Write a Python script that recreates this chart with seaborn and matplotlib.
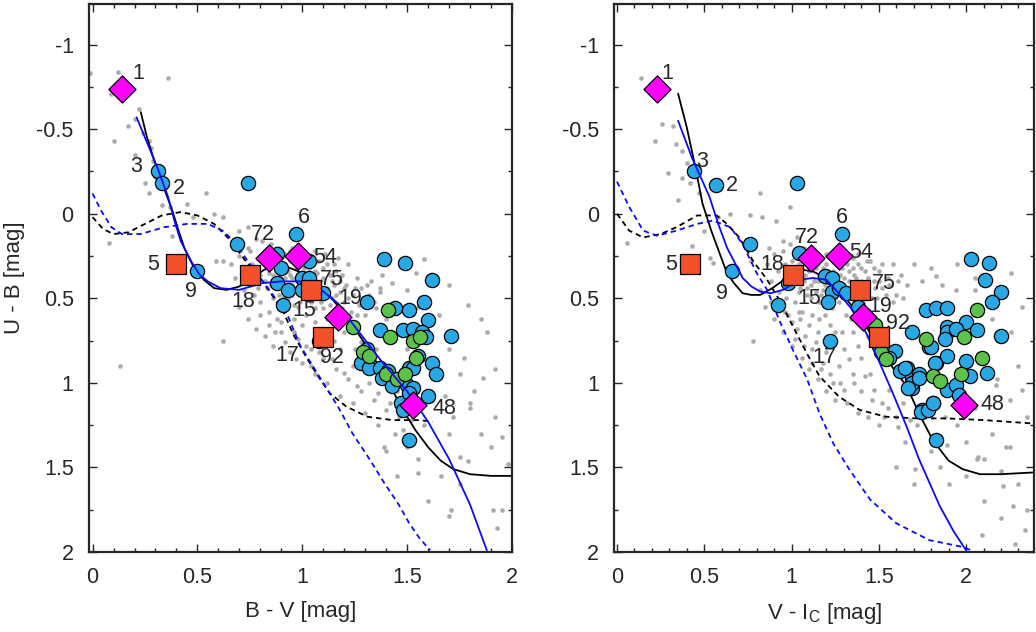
import numpy as np
import pandas as pd
import seaborn as sns
import matplotlib.pyplot as plt
from matplotlib.ticker import MultipleLocator, FuncFormatter

sns.set_style("ticks")
plt.rcParams['font.family'] = ['Liberation Sans', 'DejaVu Sans']
plt.rcParams['axes.unicode_minus'] = False

# ---------------- left panel: U-B vs B-V ----------------
bv_grey = [
    (-0.01, -0.83), (0.09, -0.71), (0.17, -0.71), (0.36, -0.80), (0.20, -0.56), (0.17, -0.52), (0.10, -0.43),
    (0.27, -0.43), (0.28, -0.39), (0.20, -0.35), (0.29, -0.31), (0.30, -0.22), (0.27, -0.12), (0.25, -0.18),
    (0.33, -0.05), (0.37, -0.04), (0.45, -0.06), (0.54, -0.12), (0.38, 0.13), (0.08, 0.17), (0.48, 0.02),
    (0.58, 0.00), (0.62, 0.02), (0.59, 0.28), (0.62, 0.28), (0.70, 0.10), (0.74, 0.08), (0.74, 0.20),
    (0.81, 0.16), (0.13, 0.90), (0.12, -0.84), (0.22, -0.62), (0.24, -0.48), (0.62, 0.75),
    (0.66, 0.30), (0.68, 0.38), (0.70, 0.25), (0.72, 0.33), (0.72, 0.45), (0.75, 0.22), (0.76, 0.30),
    (0.77, 0.48), (0.78, 0.15), (0.79, 0.27), (0.80, 0.36), (0.80, 0.52), (0.82, 0.22), (0.83, 0.30),
    (0.83, 0.44), (0.84, 0.58), (0.85, 0.18), (0.86, 0.36), (0.86, 0.50), (0.87, 0.26), (0.88, 0.44),
    (0.88, 0.62), (0.89, 0.20), (0.90, 0.30), (0.90, 0.38), (0.91, 0.50), (0.92, 0.24), (0.92, 0.57),
    (0.93, 0.34), (0.93, 0.43), (0.94, 0.28), (0.95, 0.20), (0.95, 0.38), (0.95, 0.48), (0.96, 0.62),
    (0.97, 0.32), (0.97, 0.44), (0.98, 0.27), (0.98, 0.55), (0.99, 0.38), (1.00, 0.22), (1.00, 0.48),
    (1.01, 0.32), (1.01, 0.42), (1.02, 0.60), (1.03, 0.26), (1.03, 0.36), (1.04, 0.52), (1.05, 0.30),
    (1.05, 0.42), (1.06, 0.22), (1.06, 0.64), (1.07, 0.35), (1.08, 0.28), (1.08, 0.48), (1.09, 0.40),
    (1.10, 0.56), (1.10, 0.32), (1.11, 0.24), (1.12, 0.44), (1.12, 0.62), (1.13, 0.36), (1.14, 0.50),
    (1.15, 0.30), (1.15, 0.42), (1.16, 0.58), (1.17, 0.26), (1.18, 0.46), (1.19, 0.36), (1.20, 0.52),
    (1.21, 0.42), (1.22, 0.30), (1.23, 0.58), (1.24, 0.48), (1.26, 0.38), (1.27, 0.54), (1.28, 0.44),
    (1.30, 0.60), (1.32, 0.48), (1.33, 0.40), (1.35, 0.56), (1.37, 0.46), (1.38, 0.36), (1.40, 0.62),
    (0.76, 0.40), (0.78, 0.34), (0.79, 0.44), (0.81, 0.28), (0.82, 0.40), (0.84, 0.25), (0.84, 0.35),
    (0.85, 0.42), (0.87, 0.32), (0.87, 0.40), (0.88, 0.28), (0.89, 0.35), (0.89, 0.48), (0.90, 0.25),
    (0.91, 0.42), (0.92, 0.30), (0.92, 0.38), (0.93, 0.50), (0.94, 0.36), (0.94, 0.22), (0.95, 0.42),
    (0.96, 0.30), (0.96, 0.54), (0.97, 0.38), (0.98, 0.46), (0.99, 0.30), (0.99, 0.52), (1.00, 0.36),
    (1.01, 0.26), (1.02, 0.44), (1.02, 0.50), (1.03, 0.32), (1.04, 0.40), (1.05, 0.48), (1.06, 0.34),
    (1.06, 0.56), (1.07, 0.28), (1.08, 0.42), (1.09, 0.52), (1.10, 0.38), (1.11, 0.46), (1.12, 0.30),
    (1.13, 0.54), (1.14, 0.40), (1.16, 0.34), (1.16, 0.48), (1.18, 0.40), (1.19, 0.56), (1.20, 0.44),
    (1.22, 0.50), (1.25, 0.44), (1.26, 0.60), (1.29, 0.50), (1.31, 0.42), (1.34, 0.52),
    (0.70, 0.55), (0.74, 0.62), (0.78, 0.68), (0.82, 0.72), (0.86, 0.78), (0.90, 0.70), (0.94, 0.82),
    (0.98, 0.74), (1.00, 0.88), (1.04, 0.80), (1.06, 0.95), (1.10, 0.86), (1.12, 1.00), (1.16, 0.92),
    (1.18, 1.08), (1.22, 0.98), (1.24, 1.12), (1.28, 1.05), (1.30, 1.18), (1.34, 1.10), (1.36, 1.25),
    (1.40, 1.16), (1.44, 1.30), (1.46, 1.20),
    (0.80, 0.60), (0.84, 0.66), (0.87, 0.70), (0.90, 0.64), (0.92, 0.76), (0.96, 0.70), (0.97, 0.86),
    (1.00, 0.66), (1.02, 0.78), (1.04, 0.90), (1.07, 0.70), (1.08, 0.82), (1.12, 0.72), (1.14, 0.86),
    (1.16, 0.66), (1.18, 0.80), (1.20, 0.94), (1.24, 0.90), (1.26, 1.02), (1.28, 0.76), (1.32, 1.00),
    (1.36, 1.06), (1.38, 0.88), (1.42, 1.12), (1.48, 1.28), (1.52, 1.22),
    (1.50, 0.45), (1.55, 0.55), (1.65, 0.60), (1.70, 0.80), (1.75, 0.95), (1.80, 1.15), (1.85, 1.30),
    (1.82, 1.05), (1.92, 1.20), (1.95, 1.32), (1.95, 1.75), (1.70, 1.30), (1.66, 1.55), (1.60, 1.70),
    (1.75, 1.60), (1.55, 1.45), (1.45, 1.55), (1.40, 1.40), (1.58, 1.25), (1.50, 1.38), (1.62, 1.10),
    (1.68, 1.08), (1.72, 1.20), (1.98, 1.48), (1.92, 0.92), (1.88, 0.70), (1.70, 0.42), (1.50, 0.80),
    (1.47, 0.95), (1.45, 1.05), (1.38, 0.95), (1.35, 0.80), (1.30, 0.90), (1.25, 0.80), (1.20, 0.70),
    (1.15, 0.75), (1.79, 0.54), (1.85, 0.62), (1.77, 0.85), (1.86, 0.97), (1.80, 1.12), (1.90, 1.38),
    (1.75, 1.44), (1.79, 1.46), (1.55, 1.53), (1.71, 1.75), (1.91, 1.75), (1.93, 1.86), (1.70, 1.79),
    (1.39, 1.38), (1.58, 0.27), (1.54, 0.35), (1.43, 0.41), (1.37, 0.44),
]
bv_blue = [
    (0.31, -0.25), (0.33, -0.18), (0.74, -0.18), (0.69, 0.18), (0.50, 0.34), (0.97, 0.12), (0.88, 0.24),
    (0.90, 0.32), (0.88, 0.41), (0.93, 0.45), (0.91, 0.54), (1.00, 0.38), (1.03, 0.38), (1.00, 0.45),
    (1.03, 0.28), (1.10, 0.47), (1.08, 0.75), (1.39, 0.27), (1.49, 0.29), (1.62, 0.39), (1.31, 0.52),
    (1.44, 0.56), (1.51, 0.57), (1.58, 0.52), (1.60, 0.63), (1.71, 0.72), (1.37, 0.69), (1.48, 0.69),
    (1.53, 0.68), (1.57, 0.70), (1.59, 0.73), (1.31, 0.80), (1.28, 0.88), (1.32, 0.91), (1.37, 0.91),
    (1.41, 0.93), (1.38, 0.97), (1.50, 1.01), (1.53, 1.03), (1.51, 0.91), (1.55, 0.84), (1.62, 0.88),
    (1.64, 0.95), (1.60, 1.08), (1.47, 1.12), (1.48, 1.16), (1.51, 1.34), (1.43, 1.02), (1.51, 1.06),
    (1.53, 0.91),
]
bv_green = [
    (1.41, 0.57), (1.24, 0.67), (1.42, 0.73), (1.53, 0.75), (1.56, 0.73), (1.29, 0.82), (1.32, 0.84),
    (1.40, 0.95), (1.45, 0.98), (1.49, 0.95), (1.54, 0.85),
]
bv_square = [(0.40, 0.30), (0.75, 0.36), (1.04, 0.45), (1.10, 0.73)]
bv_diamond = [(0.14, -0.74), (0.84, 0.26), (0.98, 0.25), (1.17, 0.61), (1.53, 1.13)]
bv_labels = [
    ('1', 0.22, -0.83), ('3', 0.21, -0.28), ('2', 0.41, -0.15), ('9', 0.47, 0.46), ('5', 0.29, 0.30),
    ('72', 0.81, 0.12), ('6', 1.01, 0.02), ('54', 1.11, 0.26), ('18', 0.72, 0.52), ('75', 1.14, 0.39),
    ('15', 1.01, 0.57), ('19', 1.23, 0.50), ('17', 0.93, 0.84), ('92', 1.14, 0.85), ('48', 1.68, 1.15),
]
bv_black = [
    (0.23, -0.60), (0.26, -0.45), (0.29, -0.33), (0.32, -0.22), (0.35, -0.12), (0.38, -0.02), (0.41, 0.10),
    (0.44, 0.21), (0.48, 0.31), (0.53, 0.39), (0.58, 0.44), (0.64, 0.45), (0.70, 0.43), (0.76, 0.38),
    (0.82, 0.33), (0.88, 0.31), (0.94, 0.32), (1.00, 0.35), (1.06, 0.40), (1.12, 0.47), (1.18, 0.56),
    (1.24, 0.66), (1.30, 0.77), (1.36, 0.89), (1.42, 1.02), (1.48, 1.16), (1.54, 1.28), (1.60, 1.38),
    (1.66, 1.46), (1.72, 1.51), (1.80, 1.54), (1.90, 1.55), (2.00, 1.55),
]
bv_bluefit = [
    (0.21, -0.57), (0.26, -0.42), (0.31, -0.27), (0.36, -0.10), (0.39, 0.04), (0.42, 0.16), (0.47, 0.28),
    (0.51, 0.36), (0.55, 0.40), (0.61, 0.44), (0.70, 0.45), (0.81, 0.41), (0.90, 0.40), (0.99, 0.40),
    (1.09, 0.45), (1.17, 0.53), (1.24, 0.65), (1.37, 0.86), (1.50, 1.05), (1.60, 1.23), (1.70, 1.45),
    (1.80, 1.72), (1.88, 1.99),
]
bv_black_dash = [
    (0.00, 0.02), (0.05, 0.09), (0.10, 0.12), (0.17, 0.11), (0.25, 0.06), (0.33, 0.01), (0.42, -0.01),
    (0.50, 0.01), (0.58, 0.06), (0.66, 0.16), (0.73, 0.28), (0.80, 0.38), (0.85, 0.47), (0.91, 0.58),
    (0.96, 0.72), (1.02, 0.85), (1.07, 0.95), (1.13, 1.06), (1.21, 1.14), (1.31, 1.20), (1.43, 1.22),
    (1.56, 1.22), (1.62, 1.23),
]
bv_blue_dash = [
    (0.00, -0.12), (0.04, -0.02), (0.09, 0.08), (0.14, 0.12), (0.23, 0.12), (0.34, 0.08), (0.45, 0.06),
    (0.55, 0.06), (0.62, 0.10), (0.68, 0.17), (0.74, 0.28), (0.80, 0.38), (0.86, 0.48), (0.93, 0.60),
    (0.99, 0.78), (1.09, 0.98), (1.17, 1.14), (1.24, 1.30), (1.32, 1.45), (1.39, 1.59), (1.46, 1.72),
    (1.51, 1.83), (1.56, 1.92), (1.61, 1.99),
]

# ---------------- right panel: U-B vs V-Ic ----------------
vi_grey = [
    (0.14, -0.80), (0.21, -0.74), (0.27, -0.71), (0.26, -0.53), (0.22, -0.43), (0.32, -0.52), (0.34, -0.41),
    (0.37, -0.37), (0.29, -0.24), (0.37, -0.21), (0.42, -0.18), (0.47, -0.12), (0.82, -0.12), (0.99, -0.04),
    (0.06, 0.17), (0.43, 0.19), (0.58, 0.02), (0.65, 0.00), (0.76, 0.01), (0.83, 0.02), (0.91, 0.04),
    (0.53, 0.26), (0.55, 0.29), (0.77, 0.28), (0.87, 0.20), (0.95, 0.16), (1.03, 0.14), (0.40, -0.30),
    (0.35, -0.08), (0.50, 0.10), (0.78, 0.75),
    (0.86, 0.30), (0.88, 0.40), (0.90, 0.24), (0.92, 0.34), (0.93, 0.46), (0.95, 0.22), (0.96, 0.30),
    (0.97, 0.50), (0.99, 0.18), (1.00, 0.28), (1.01, 0.36), (1.02, 0.52), (1.04, 0.30), (1.05, 0.44),
    (1.06, 0.58), (1.07, 0.20), (1.08, 0.36), (1.09, 0.48), (1.10, 0.28), (1.11, 0.42), (1.12, 0.60),
    (1.13, 0.22), (1.14, 0.32), (1.15, 0.40), (1.16, 0.52), (1.17, 0.26), (1.18, 0.45), (1.19, 0.60),
    (1.20, 0.30), (1.21, 0.40), (1.22, 0.24), (1.23, 0.56), (1.24, 0.34), (1.25, 0.42), (1.26, 0.28),
    (1.27, 0.52), (1.28, 0.36), (1.29, 0.22), (1.30, 0.46), (1.31, 0.60), (1.32, 0.30), (1.33, 0.40),
    (1.34, 0.50), (1.35, 0.26), (1.36, 0.36), (1.37, 0.44), (1.38, 0.30), (1.40, 0.40), (1.41, 0.52),
    (1.42, 0.34), (1.44, 0.46), (1.45, 0.28), (1.47, 0.40), (1.49, 0.50), (1.50, 0.34), (1.52, 0.44),
    (1.55, 0.38), (1.58, 0.30), (1.60, 0.48), (1.63, 0.36), (1.66, 0.42), (1.70, 0.30), (1.75, 0.40),
    (1.80, 0.32), (1.86, 0.42), (1.95, 0.30), (2.05, 0.38),
    (1.02, 0.40), (1.03, 0.24), (1.04, 0.46), (1.06, 0.32), (1.07, 0.40), (1.08, 0.26), (1.09, 0.44),
    (1.10, 0.34), (1.11, 0.50), (1.12, 0.26), (1.13, 0.40), (1.14, 0.46), (1.15, 0.30), (1.16, 0.36),
    (1.17, 0.48), (1.18, 0.32), (1.19, 0.42), (1.20, 0.24), (1.21, 0.34), (1.22, 0.46), (1.24, 0.28),
    (1.25, 0.50), (1.26, 0.36), (1.27, 0.24), (1.28, 0.44), (1.29, 0.32), (1.30, 0.38), (1.31, 0.28),
    (1.32, 0.50), (1.33, 0.34), (1.34, 0.44), (1.35, 0.32), (1.36, 0.52), (1.37, 0.38), (1.38, 0.24),
    (1.39, 0.46), (1.40, 0.32), (1.42, 0.42), (1.43, 0.28), (1.44, 0.38), (1.46, 0.50), (1.47, 0.32),
    (1.48, 0.44), (1.50, 0.40), (1.52, 0.30), (1.54, 0.48), (1.56, 0.42), (1.58, 0.52), (1.61, 0.40),
    (1.64, 0.50),
    (0.90, 0.62), (0.95, 0.70), (0.98, 0.60), (1.00, 0.78), (1.03, 0.68), (1.06, 0.85), (1.08, 0.72),
    (1.10, 0.92), (1.12, 0.80), (1.15, 0.98), (1.18, 0.88), (1.20, 1.05), (1.22, 0.95), (1.25, 1.10),
    (1.28, 1.00), (1.30, 0.80), (1.32, 1.12), (1.35, 0.95), (1.38, 1.18), (1.40, 1.05), (1.44, 1.20),
    (1.46, 1.10), (1.50, 1.25), (1.55, 1.15), (1.35, 0.70), (1.40, 0.85), (1.45, 0.95), (1.25, 0.70),
    (1.15, 0.70), (1.05, 0.62),
    (0.96, 0.58), (1.00, 0.64), (1.02, 0.74), (1.04, 0.58), (1.07, 0.78), (1.10, 0.66), (1.12, 0.88),
    (1.14, 0.76), (1.16, 0.62), (1.17, 0.92), (1.20, 0.82), (1.22, 0.66), (1.24, 1.00), (1.27, 0.90),
    (1.29, 0.70), (1.30, 1.04), (1.33, 0.86), (1.34, 0.62), (1.36, 1.00), (1.38, 0.78), (1.42, 0.96),
    (1.44, 0.72), (1.47, 1.04), (1.52, 1.12), (1.56, 1.04), (1.60, 1.20), (1.64, 1.12), (1.68, 1.22),
    (0.82, 0.45), (0.85, 0.55), (0.88, 0.52),
    (1.72, 1.25), (1.80, 1.40), (1.95, 1.25), (2.05, 1.15), (2.10, 1.45), (2.15, 1.30), (2.20, 1.52),
    (2.30, 1.60), (2.35, 1.75), (2.20, 1.80), (2.28, 1.95), (2.10, 1.70), (2.00, 1.55), (1.90, 1.60),
    (1.85, 1.50), (2.25, 1.10), (2.30, 0.90), (2.18, 0.98), (2.26, 0.70), (2.32, 0.55), (2.15, 0.62),
    (2.00, 1.35), (1.88, 1.20), (1.65, 1.35), (1.60, 1.50), (1.70, 1.60), (2.35, 1.20),
    (1.53, 1.20), (1.61, 1.26), (1.89, 1.37), (2.07, 1.44), (2.23, 1.38), (2.17, 1.01), (2.32, 1.04),
    (1.71, 1.51), (2.26, 0.35), (1.83, 0.37), (1.94, 0.45), (2.05, 0.45), (2.25, 1.38), (2.21, 1.61),
    (2.27, 1.73), (2.09, 1.90), (2.34, 1.87), (2.06, 1.45),
]
vi_blue = [
    (0.44, -0.25), (0.57, -0.17), (1.03, -0.18), (0.76, 0.18), (0.66, 0.34), (0.92, 0.54), (1.29, 0.12),
    (1.04, 0.23), (0.98, 0.41), (1.19, 0.37), (1.23, 0.38), (1.23, 0.46), (1.21, 0.52), (1.27, 0.44),
    (1.22, 0.75), (1.38, 0.55), (1.59, 0.81), (1.66, 0.91), (1.62, 0.93), (1.69, 0.70), (1.79, 0.79),
    (1.77, 0.57), (1.83, 0.56), (1.89, 0.56), (1.69, 0.97), (1.73, 0.95), (1.69, 1.03), (1.83, 0.88),
    (1.81, 1.12), (1.75, 1.16), (1.83, 1.34), (1.89, 0.67), (2.03, 0.27), (2.13, 0.29), (2.11, 0.39),
    (2.20, 0.46), (2.15, 0.52), (2.00, 0.64), (2.06, 0.69), (1.89, 0.70), (1.94, 0.68), (1.88, 0.74),
    (2.20, 0.72), (1.80, 0.79), (1.89, 0.84), (2.00, 0.87), (2.12, 0.94), (2.02, 0.96), (1.82, 0.88),
    (1.69, 1.00), (1.73, 0.97), (1.67, 1.03), (1.56, 0.85), (1.65, 0.91), (1.89, 1.04), (1.94, 1.01),
    (1.96, 1.07), (1.74, 1.17), (1.78, 1.16), (1.81, 1.12), (1.31, 0.47), (1.42, 0.60), (1.50, 0.78),
]
vi_green = [
    (1.48, 0.66), (1.51, 0.82), (1.54, 0.86), (1.77, 0.74), (1.81, 0.96), (1.85, 0.99), (2.06, 0.57),
    (1.99, 0.73), (2.09, 0.85), (1.97, 0.95),
]
vi_square = [(0.42, 0.30), (1.01, 0.36), (1.39, 0.45), (1.50, 0.73)]
vi_diamond = [(0.23, -0.74), (1.11, 0.26), (1.27, 0.25), (1.41, 0.61), (1.99, 1.13)]
vi_labels = [
    ('1', 0.29, -0.83), ('3', 0.49, -0.31), ('2', 0.66, -0.17), ('9', 0.60, 0.47), ('5', 0.31, 0.30),
    ('72', 1.09, 0.14), ('6', 1.29, 0.02), ('54', 1.40, 0.23), ('18', 0.89, 0.30), ('75', 1.53, 0.41),
    ('15', 1.10, 0.50), ('19', 1.51, 0.55), ('17', 1.19, 0.85), ('92', 1.61, 0.65), ('48', 2.15, 1.13),
]
vi_black = [
    (0.35, -0.71), (0.40, -0.51), (0.45, -0.27), (0.49, -0.06), (0.54, 0.10), (0.59, 0.24), (0.63, 0.35),
    (0.67, 0.41), (0.72, 0.47), (0.77, 0.48), (0.82, 0.48), (0.89, 0.44), (0.97, 0.38), (1.05, 0.33),
    (1.12, 0.34), (1.20, 0.38), (1.27, 0.45), (1.35, 0.55), (1.43, 0.67), (1.50, 0.79), (1.58, 0.91),
    (1.66, 1.02), (1.73, 1.18), (1.81, 1.34), (1.90, 1.46), (1.98, 1.51), (2.08, 1.54), (2.20, 1.54),
    (2.38, 1.53),
]
vi_bluefit = [
    (0.35, -0.55), (0.43, -0.33), (0.53, -0.10), (0.58, 0.06), (0.63, 0.20), (0.68, 0.30), (0.72, 0.38),
    (0.77, 0.43), (0.82, 0.46), (0.88, 0.47), (0.95, 0.45), (1.05, 0.39), (1.12, 0.38), (1.20, 0.39),
    (1.27, 0.47), (1.35, 0.57), (1.43, 0.71), (1.50, 0.87), (1.58, 1.06), (1.66, 1.26), (1.73, 1.45),
    (1.85, 1.73), (1.93, 1.88), (2.00, 1.99),
]
vi_black_dash = [
    (0.00, 0.00), (0.07, 0.10), (0.15, 0.14), (0.25, 0.12), (0.34, 0.08), (0.46, 0.01), (0.57, 0.01),
    (0.63, 0.06), (0.70, 0.14), (0.78, 0.28), (0.86, 0.39), (0.93, 0.51), (1.01, 0.67), (1.09, 0.83),
    (1.16, 0.96), (1.27, 1.08), (1.39, 1.16), (1.54, 1.20), (1.71, 1.21), (1.89, 1.21), (2.10, 1.22),
    (2.38, 1.24),
]
vi_blue_dash = [
    (0.00, -0.19), (0.07, -0.04), (0.15, 0.10), (0.23, 0.13), (0.34, 0.10), (0.46, 0.06), (0.55, 0.04),
    (0.65, 0.08), (0.72, 0.18), (0.80, 0.35), (0.86, 0.45), (0.93, 0.63), (1.01, 0.81), (1.09, 0.98),
    (1.16, 1.18), (1.24, 1.36), (1.33, 1.51), (1.45, 1.69), (1.60, 1.83), (1.79, 1.93), (1.98, 1.97),
    (2.03, 1.99),
]

GREY = '#ababab'
BLUE_PT = '#29a8e6'
GREEN_PT = '#5cc24a'
RED_SQ = '#f2512a'
MAGENTA = '#ff00ff'
LINE_BLUE = '#0a0aff'


def df(pts):
    return pd.DataFrame(pts, columns=['x', 'y'])


def draw_panel(ax, grey, blue, green, square, diamond, labels, black, bluefit, black_dash, blue_dash, xmax):
    sns.scatterplot(data=df(grey), x='x', y='y', ax=ax, color=GREY, s=11, linewidth=0, zorder=1)
    for pts, col, ls in [(black, 'black', '-'), (black_dash, 'black', (0, (3, 2.2))),
                         (blue_dash, LINE_BLUE, (0, (3, 2.2)))]:
        sns.lineplot(data=df(pts), x='x', y='y', ax=ax, color=col, lw=1.3, linestyle=ls,
                     sort=False, estimator=None, zorder=2)
    sns.scatterplot(data=df(blue), x='x', y='y', ax=ax, color=BLUE_PT, s=105,
                    edgecolor='black', linewidth=0.9, zorder=3)
    sns.scatterplot(data=df(green), x='x', y='y', ax=ax, color=GREEN_PT, s=105,
                    edgecolor='black', linewidth=0.9, zorder=3)
    sns.lineplot(data=df(bluefit), x='x', y='y', ax=ax, color=LINE_BLUE, lw=1.3,
                 sort=False, estimator=None, zorder=4)
    sns.scatterplot(data=df(square), x='x', y='y', ax=ax, color=RED_SQ, marker='s', s=200,
                    edgecolor='black', linewidth=0.9, zorder=5)
    sns.scatterplot(data=df(diamond), x='x', y='y', ax=ax, color=MAGENTA, marker='D', s=190,
                    edgecolor='black', linewidth=0.9, zorder=5)
    for txt, x, y in labels:
        ax.text(x, y, txt, ha='center', va='center', fontsize=15.5, zorder=6)

    ax.set_xlim(-0.017, xmax)
    ax.set_ylim(2.0, -1.24)
    ax.xaxis.set_major_locator(MultipleLocator(0.5))
    ax.xaxis.set_minor_locator(MultipleLocator(0.1))
    ax.yaxis.set_major_locator(MultipleLocator(0.5))
    ax.yaxis.set_minor_locator(MultipleLocator(0.25))
    fmt = FuncFormatter(lambda v, p: '%g' % round(v, 2))
    ax.xaxis.set_major_formatter(fmt)
    ax.yaxis.set_major_formatter(fmt)
    ax.tick_params(which='both', direction='in', top=True, right=True, labelsize=15.5)
    ax.tick_params(axis='x', pad=11)
    ax.tick_params(axis='y', pad=11)
    ax.tick_params(which='major', length=6, width=1)
    ax.tick_params(which='minor', length=3, width=1)
    for sp in ax.spines.values():
        sp.set_linewidth(1.6)
        sp.set_visible(True)


fig = plt.figure(figsize=(10.36, 6.32), dpi=100)
ax1 = fig.add_axes([0.0859, 0.1266, 0.4083, 0.867])
ax2 = fig.add_axes([0.5927, 0.1266, 0.4055, 0.867])

draw_panel(ax1, bv_grey, bv_blue, bv_green, bv_square, bv_diamond, bv_labels,
           bv_black, bv_bluefit, bv_black_dash, bv_blue_dash, 2.0)
draw_panel(ax2, vi_grey, vi_blue, vi_green, vi_square, vi_diamond, vi_labels,
           vi_black, vi_bluefit, vi_black_dash, vi_blue_dash, 2.39)

ax1.set_xlabel('B - V [mag]', fontsize=16, labelpad=9)
ax1.set_ylabel('U - B [mag]', fontsize=16, labelpad=8)
ax2.set_xlabel(r'V - I$_\mathregular{C}$ [mag]', fontsize=16, labelpad=9)
ax2.set_ylabel('')

fig.savefig('out.png', dpi=100)
